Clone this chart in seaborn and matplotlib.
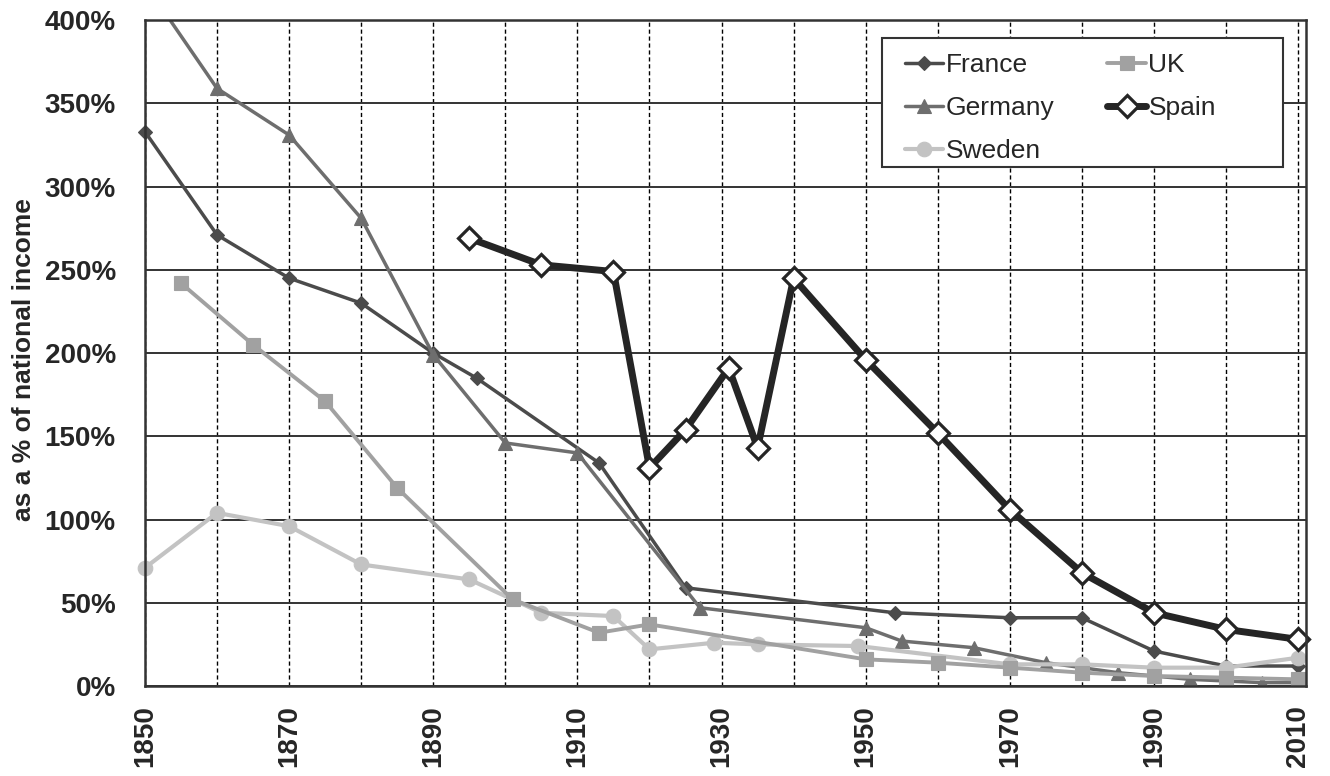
import matplotlib
matplotlib.use("Agg")
import matplotlib.pyplot as plt
import matplotlib.ticker as mticker
from matplotlib.patches import Rectangle
import seaborn as sns
import pandas as pd

sns.set_style("white")
plt.rcParams['font.family'] = ['Liberation Sans', 'DejaVu Sans']

# valeurs (% du revenu national)
france_years = [1850, 1860, 1870, 1880, 1890, 1896, 1913, 1925, 1954, 1970, 1980, 1990, 2000, 2010]
france_vals = [333, 271, 245, 230, 200, 185, 134, 59, 44, 41, 41, 21, 12, 12]

uk_years = [1855, 1865, 1875, 1885, 1901, 1913, 1920, 1950, 1960, 1970, 1980, 1990, 2000, 2010]
uk_vals = [242, 205, 171, 119, 52, 32, 37, 16, 14, 11, 8, 6, 5, 4]

germany_years = [1850, 1860, 1870, 1880, 1890, 1900, 1910, 1927, 1950, 1955, 1965, 1975, 1985, 1995, 2005, 2010]
germany_vals = [422, 359, 331, 281, 199, 146, 140, 47, 35, 27, 23, 14, 8, 4, 2, 2]

spain_years = [1895, 1905, 1915, 1920, 1925, 1931, 1935, 1940, 1950, 1960, 1970, 1980, 1990, 2000, 2010]
spain_vals = [269, 253, 249, 131, 154, 191, 143, 245, 196, 152, 106, 68, 44, 34, 28]

sweden_years = [1850, 1860, 1870, 1880, 1895, 1905, 1915, 1920, 1929, 1935, 1949, 1970, 1980, 1990, 2000, 2010]
sweden_vals = [71, 104, 96, 73, 64, 44, 42, 22, 26, 25, 24, 13, 13, 11, 11, 17]

fig = plt.figure(figsize=(13.3, 7.76), dpi=100)
ax = fig.add_axes([0.109, 0.116, 0.873, 0.858])

# (nom, années, valeurs, couleur, marqueur, taille, épaisseur, remplissage)
series = [
    ('France', france_years, france_vals, '#4b4b4b', 'D', 7.5, 2.5, '#4b4b4b'),
    ('Germany', germany_years, germany_vals, '#6e6e6e', '^', 10, 2.5, '#6e6e6e'),
    ('Sweden', sweden_years, sweden_vals, '#c3c3c3', 'o', 10.5, 3.0, '#c3c3c3'),
    ('UK', uk_years, uk_vals, '#a1a1a1', 's', 9.5, 2.8, '#a1a1a1'),
    ('Spain', spain_years, spain_vals, '#252525', 'D', 11, 5.0, 'white'),
]

for name, yrs, vals, col, mk, ms, lw, fc in series:
    df = pd.DataFrame({'annee': yrs, 'valeur': vals})
    sns.lineplot(data=df, x='annee', y='valeur', ax=ax, color=col, marker=mk,
                 markersize=ms, linewidth=lw, markerfacecolor=fc,
                 markeredgecolor=col, markeredgewidth=2.3 if fc == 'white' else 0.8,
                 label=name, zorder=5 if name == 'Spain' else 3,
                 clip_on=(name == 'Germany'))

ax.set_xlim(1850, 2011.1)
ax.set_ylim(0, 400)

ax.set_xticks(range(1850, 2011, 20))
ax.set_xticks(range(1860, 2011, 20), minor=True)
ax.set_yticks(range(0, 401, 50))
ax.yaxis.set_major_formatter(mticker.FuncFormatter(lambda v, p: f'{int(v)}%'))

ax.grid(True, axis='y', which='major', color='#333333', linewidth=1.4, linestyle='-')
ax.grid(True, axis='x', which='both', color='black', linewidth=1.0, linestyle=(0, (3, 2)))
ax.set_axisbelow(True)

ax.tick_params(axis='both', which='both', length=0)
ax.tick_params(axis='x', which='major', pad=14, labelsize=20, labelrotation=90)
ax.tick_params(axis='y', pad=21, labelsize=20)
for lab in ax.get_xticklabels() + ax.get_yticklabels():
    lab.set_fontweight('bold')

for sp in ax.spines.values():
    sp.set_color('#333333')
    sp.set_linewidth(1.8)
    sp.set_zorder(6)

ax.set_xlabel('')
ax.set_ylabel('as a % of national income', fontsize=19, fontweight='bold')
ax.yaxis.set_label_coords(-0.094, 0.49)

# cadre de la légende (plus large que son contenu, comme l'original)
ax.add_patch(Rectangle((0.6348, 0.7793), 0.3454, 0.1937, transform=ax.transAxes,
                       facecolor='white', edgecolor='#333333', linewidth=1.5, zorder=7))

leg = ax.legend(loc='upper left', bbox_to_anchor=(0.6546, 0.951), borderaxespad=0,
                ncol=2, fontsize=19, frameon=False,
                handlelength=1.45, handletextpad=0.1, columnspacing=2.0,
                labelspacing=0.72, borderpad=0)
leg.set_zorder(8)

fig.savefig('out.png', dpi=100)
